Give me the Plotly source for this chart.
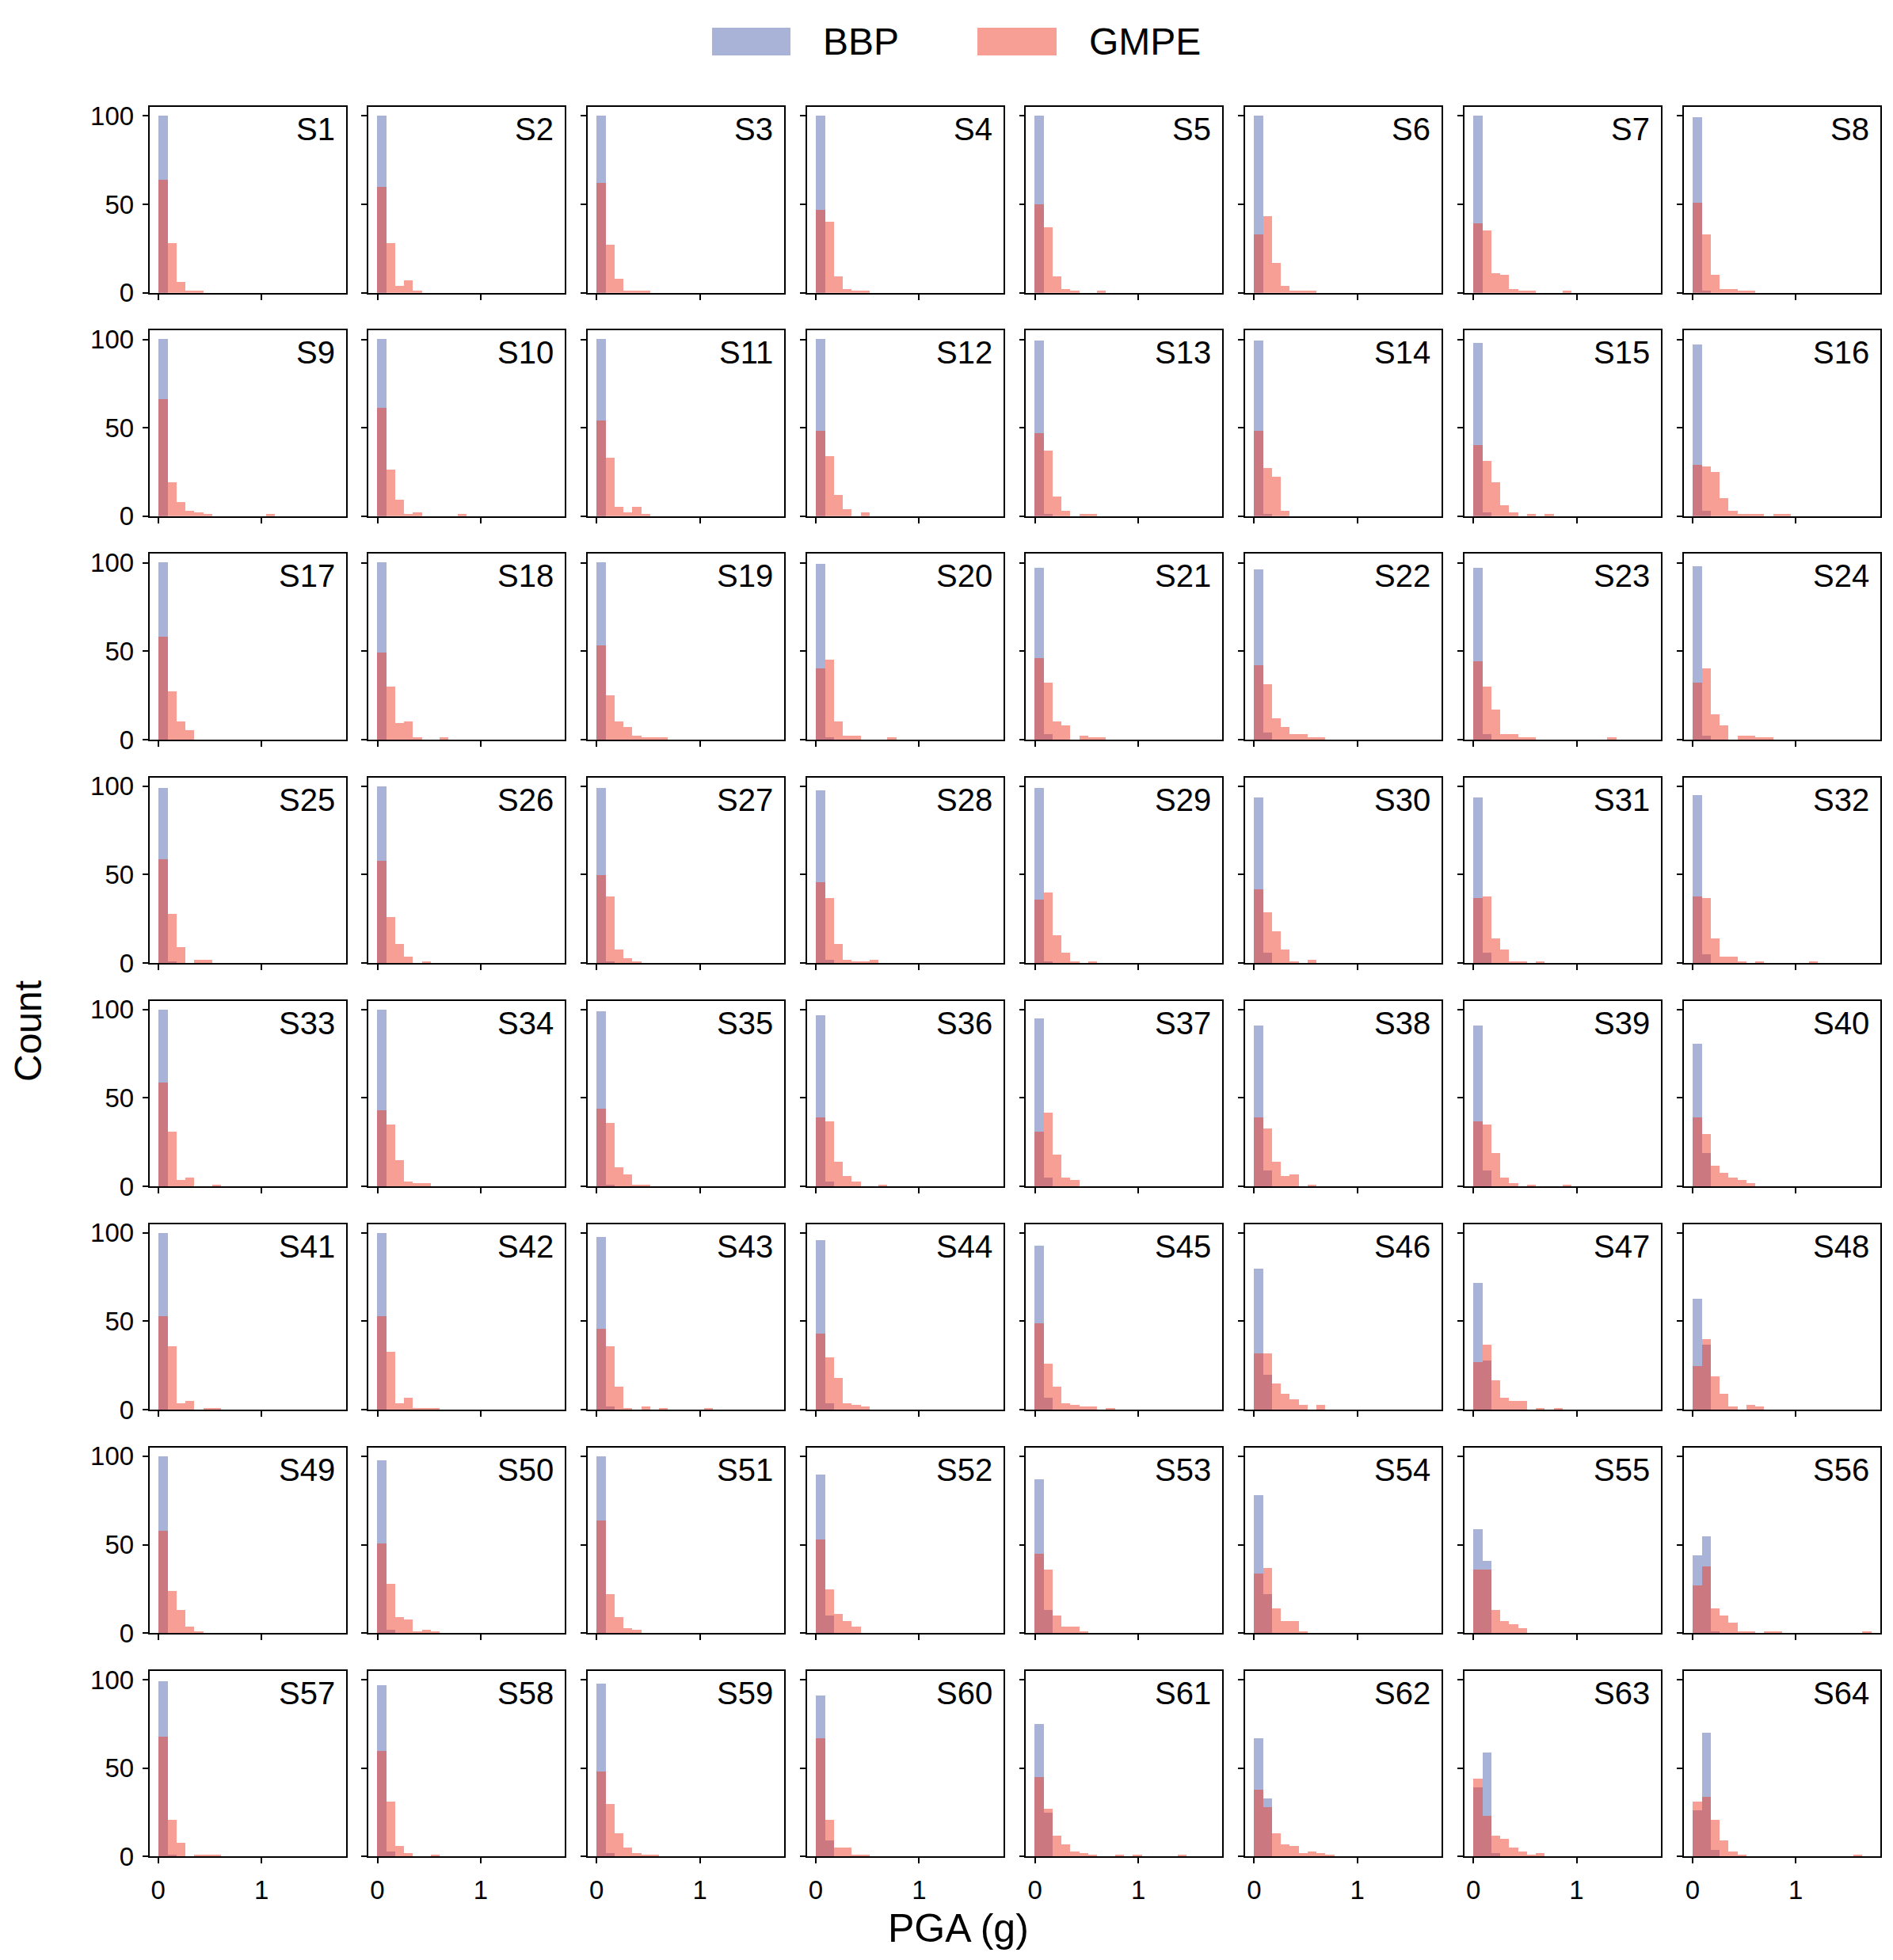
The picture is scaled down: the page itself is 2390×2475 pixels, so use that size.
import plotly.graph_objects as go

# ---------------- data (counts per PGA bin, 20 equal bins from 0 to 1.73 g) ----------------
PGA_MIN, PGA_MAX, N_BINS = 0.0, 1.73, 20
STATIONS = [f"S{i}" for i in range(1, 65)]

BBP_ROW1 = [[100], [100], [100], [100], [100], [100], [100], [99, 1]]
BBP_ROW2 = [[100], [100], [100], [100], [99, 1], [99, 1], [98, 2], [97, 3]]
BBP_ROW3 = [[100], [100], [100], [99, 1], [97, 3], [96, 4], [97, 3], [98, 2]]
BBP_ROW4 = [[99, 1], [100], [99, 1], [98, 2], [99, 1], [94, 6], [94, 6], [95, 5]]
BBP_ROW5 = [[100], [100], [99, 1], [97, 3], [95, 5], [91, 9], [91, 9], [81, 19]]
BBP_ROW6 = [[100], [100], [98, 2], [96, 4], [93, 7], [80, 20], [72, 28], [63, 37]]
BBP_ROW7 = [[100], [98, 2], [100], [90, 10], [87, 13], [78, 22], [59, 41], [44, 55, 1]]
BBP_ROW8 = [[99, 1], [97, 3], [98, 2], [91, 9], [75, 25], [67, 33], [39, 59, 2], [26, 70, 4]]

GMPE_ROW1 = [[64, 28, 6, 1, 1], [60, 28, 4, 7, 1], [62, 27, 8, 1, 1, 1], [47, 40, 9, 2, 1, 1],
             [50, 37, 9, 2, 1, 0, 0, 1], [33, 43, 17, 4, 1, 1, 1],
             [39, 35, 11, 10, 2, 1, 1, 0, 0, 0, 1], [51, 33, 10, 2, 2, 1, 1]]
GMPE_ROW2 = [[66, 19, 8, 3, 2, 1, 0, 0, 0, 0, 0, 0, 1], [61, 26, 9, 1, 2, 0, 0, 0, 0, 1],
             [54, 33, 5, 2, 5, 1], [48, 34, 12, 4, 0, 2], [47, 37, 11, 3, 0, 1, 1],
             [48, 27, 22, 3], [40, 31, 19, 6, 2, 0, 1, 0, 1], [29, 28, 25, 10, 3, 1, 1, 1, 0, 1, 1]]
GMPE_ROW3 = [[58, 27, 10, 5], [49, 30, 9, 10, 1, 0, 0, 1], [53, 25, 10, 7, 2, 1, 1, 1],
             [40, 45, 10, 2, 2, 0, 0, 0, 1], [46, 32, 10, 8, 0, 2, 1, 1], [42, 31, 12, 7, 3, 3, 1, 1],
             [44, 30, 17, 3, 3, 1, 1, 0, 0, 0, 0, 0, 0, 0, 0, 1], [32, 40, 14, 8, 0, 2, 2, 1, 1]]
GMPE_ROW4 = [[59, 28, 9, 0, 2, 2], [58, 26, 11, 4, 0, 1], [50, 38, 8, 3, 1], [46, 37, 11, 2, 1, 1, 2],
             [36, 40, 16, 6, 1, 0, 1], [42, 29, 18, 8, 1, 0, 2], [37, 38, 14, 8, 1, 1, 0, 1],
             [38, 37, 14, 4, 4, 1, 0, 1, 0, 0, 0, 0, 0, 1]]
GMPE_ROW5 = [[59, 31, 4, 5, 0, 0, 1], [43, 35, 15, 3, 2, 2], [44, 36, 11, 7, 1, 1],
             [39, 37, 14, 6, 3, 0, 0, 1], [31, 42, 18, 5, 4], [39, 33, 14, 6, 7, 0, 1],
             [37, 35, 19, 5, 2, 0, 1, 0, 0, 0, 1], [39, 30, 12, 8, 5, 4, 2]]
GMPE_ROW6 = [[53, 36, 4, 5, 0, 1, 1], [53, 33, 4, 7, 1, 1, 1], [46, 36, 13, 1, 0, 2, 0, 1, 0, 0, 0, 0, 1],
             [43, 30, 18, 4, 3, 2], [49, 26, 13, 4, 3, 2, 2, 0, 1], [32, 32, 15, 9, 6, 3, 0, 3],
             [27, 37, 17, 7, 5, 5, 0, 1, 0, 1], [25, 40, 19, 9, 2, 0, 3, 2]]
GMPE_ROW7 = [[58, 24, 13, 4, 1], [51, 28, 9, 8, 1, 2, 1], [64, 22, 9, 3, 2], [53, 25, 11, 7, 4],
             [45, 36, 10, 4, 4, 1], [34, 37, 14, 7, 7, 1], [36, 36, 13, 7, 5, 3],
             [27, 38, 14, 10, 6, 1, 1, 0, 1, 1, 0, 0, 0, 0, 0, 0, 0, 0, 0, 1]]
GMPE_ROW8 = [[68, 21, 8, 0, 1, 1, 1], [60, 31, 6, 2, 0, 0, 1], [48, 30, 13, 5, 2, 1, 1],
             [67, 21, 5, 5, 1, 1], [45, 27, 12, 7, 3, 2, 1, 0, 0, 1, 0, 1, 0, 0, 0, 0, 1],
             [38, 28, 13, 7, 6, 2, 3, 2, 1], [44, 23, 12, 10, 5, 3, 1, 2],
             [31, 34, 21, 9, 3, 1, 0, 0, 0, 0, 0, 0, 0, 0, 0, 0, 0, 0, 1]]

X_TICKS = [0, 1]
Y_TICKS = [0, 50, 100]
SERIES = ["BBP", "GMPE"]

BBP = BBP_ROW1 + BBP_ROW2 + BBP_ROW3 + BBP_ROW4 + BBP_ROW5 + BBP_ROW6 + BBP_ROW7 + BBP_ROW8
GMPE = GMPE_ROW1 + GMPE_ROW2 + GMPE_ROW3 + GMPE_ROW4 + GMPE_ROW5 + GMPE_ROW6 + GMPE_ROW7 + GMPE_ROW8

# ---------------- style / layout ----------------
PAGE_MARGIN = 8                    # default <body> margin of the html page
W, H = 2390 - 2 * PAGE_MARGIN, 2475 - 2 * PAGE_MARGIN
COLORS = {"BBP": "rgba(84,104,176,0.5)", "GMPE": "rgba(240,62,44,0.5)"}
FONT = "Liberation Sans, Arial, Helvetica, sans-serif"

NROWS, NCOLS = 8, 8
ROW_TOP0, ROW_PITCH, PH = 135.3 - PAGE_MARGIN, 282.07, 234.5
COL_LEFT0, COL_PITCH, PW = 188.5 - PAGE_MARGIN, 276.74, 248.0


def px_x(v):
    return (v - PAGE_MARGIN) / W


def px_y(v):
    return 1 - (v - PAGE_MARGIN) / H


bw = (PGA_MAX - PGA_MIN) / N_BINS
centers = [PGA_MIN + bw * (k + 0.5) for k in range(N_BINS)]
xr = [PGA_MIN - 0.05 * (PGA_MAX - PGA_MIN), PGA_MAX + 0.05 * (PGA_MAX - PGA_MIN)]


def pad(c):
    return list(c) + [0] * (N_BINS - len(c))


fig = go.Figure()
layout = {}
annotations = []
for i in range(64):
    r, c = divmod(i, NCOLS)
    ax = "" if i == 0 else str(i + 1)
    x0 = (COL_LEFT0 + c * COL_PITCH) / W
    x1 = (COL_LEFT0 + c * COL_PITCH + PW) / W
    top = ROW_TOP0 + r * ROW_PITCH
    y1 = 1 - top / H
    y0 = 1 - (top + PH) / H
    for name, data in (("BBP", BBP), ("GMPE", GMPE)):
        fig.add_trace(go.Bar(
            x=centers, y=pad(data[i]), width=[bw] * N_BINS,
            marker=dict(color=COLORS[name], line=dict(width=0)),
            name=name, showlegend=False, xaxis="x" + ax, yaxis="y" + ax,
        ))
    common = dict(showline=True, linecolor="black", linewidth=1.6, mirror=True,
                  ticks="outside", ticklen=7, tickwidth=1.5, tickcolor="black",
                  showgrid=False, zeroline=False, automargin=False,
                  tickfont=dict(family=FONT, size=33, color="black"))
    layout["xaxis" + ax] = dict(common, domain=[x0, x1], range=xr, anchor="y" + ax,
                                tickmode="array", tickvals=X_TICKS,
                                showticklabels=(r == NROWS - 1), ticklabelstandoff=5)
    layout["yaxis" + ax] = dict(common, domain=[y0, y1], range=[0, 105], anchor="x" + ax,
                                tickmode="array", tickvals=Y_TICKS,
                                showticklabels=(c == 0), ticklabelstandoff=4)
    annotations.append(dict(text=STATIONS[i], xref=f"x{ax} domain", yref=f"y{ax} domain",
                            x=1, y=1, xanchor="right", yanchor="top", xshift=-12, yshift=-4,
                            showarrow=False, font=dict(family=FONT, size=40, color="black")))

# legend drawn as patches + labels (large patches like the reference)
shapes = []
leg = [("BBP", 899, 998, 1037), ("GMPE", 1234, 1334, 1373)]
for name, px0, px1, tx in leg:
    shapes.append(dict(type="rect", xref="paper", yref="paper",
                       x0=px_x(px0), x1=px_x(px1), y0=px_y(70), y1=px_y(35),
                       fillcolor=COLORS[name], line=dict(width=0)))
    annotations.append(dict(text=name, xref="paper", yref="paper", x=px_x(tx), y=px_y(53),
                            xanchor="left", yanchor="middle", showarrow=False,
                            font=dict(family=FONT, size=48, color="black")))

annotations.append(dict(text="PGA (g)", xref="paper", yref="paper", x=px_x(1210), y=px_y(2435),
                        xanchor="center", yanchor="middle", showarrow=False,
                        font=dict(family=FONT, size=50, color="black")))
annotations.append(dict(text="Count", xref="paper", yref="paper", x=px_x(35), y=px_y(1302),
                        xanchor="center", yanchor="middle", textangle=-90, showarrow=False,
                        font=dict(family=FONT, size=48, color="black")))

fig.update_layout(**layout)
fig.update_layout(width=W, height=H,
                  margin=dict(l=0, r=0, t=0, b=0, pad=0, autoexpand=False),
                  paper_bgcolor="white", plot_bgcolor="white", barmode="overlay",
                  bargap=0, showlegend=False, annotations=annotations, shapes=shapes,
                  font=dict(family=FONT, color="black"))

fig.write_html("out.html")
